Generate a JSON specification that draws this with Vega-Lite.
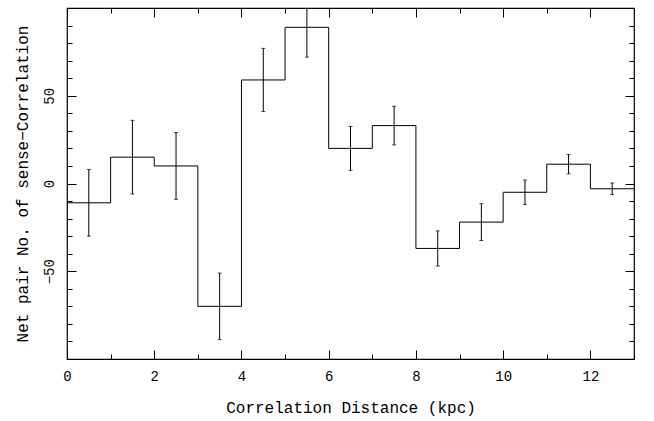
{
  "$schema": "https://vega.github.io/schema/vega-lite/v6.json",
  "width": 567,
  "height": 351,
  "autosize": {"type": "none"},
  "padding": {"left": 67, "top": 8, "right": 20, "bottom": 62},
  "background": "white",
  "config": {
    "view": {"stroke": "black", "strokeWidth": 1.2},
    "font": "Liberation Mono",
    "axis": {"labelFont": "Liberation Mono", "titleFont": "Liberation Mono", "labelColor": "black", "titleColor": "black", "titleFontWeight": "normal", "grid": false, "domain": false, "tickColor": "black"}
  },
  "datasets": {
    "bins": [
      {"xc": 0.5, "y": -11, "err": 19},
      {"xc": 1.5, "y": 15, "err": 21},
      {"xc": 2.5, "y": 10, "err": 19},
      {"xc": 3.5, "y": -70, "err": 19},
      {"xc": 4.5, "y": 59, "err": 18},
      {"xc": 5.5, "y": 89, "err": 17},
      {"xc": 6.5, "y": 20, "err": 12.5},
      {"xc": 7.5, "y": 33, "err": 11},
      {"xc": 8.5, "y": -37, "err": 10},
      {"xc": 9.5, "y": -22, "err": 10.5},
      {"xc": 10.5, "y": -5, "err": 7},
      {"xc": 11.5, "y": 11, "err": 5.5},
      {"xc": 12.5, "y": -3, "err": 3.3}
    ],
    "steps": [
      {"x": 0, "y": -11}, {"x": 1, "y": 15}, {"x": 2, "y": 10}, {"x": 3, "y": -70},
      {"x": 4, "y": 59}, {"x": 5, "y": 89}, {"x": 6, "y": 20}, {"x": 7, "y": 33},
      {"x": 8, "y": -37}, {"x": 9, "y": -22}, {"x": 10, "y": -5}, {"x": 11, "y": 11},
      {"x": 12, "y": -3}, {"x": 13, "y": -3}
    ]
  },
  "resolve": {"axis": {"x": "independent", "y": "independent"}},
  "layer": [
    {
      "data": {"name": "steps"},
      "mark": {"type": "line", "interpolate": "step-after", "color": "black", "strokeWidth": 1, "clip": true},
      "encoding": {
        "x": {"field": "x", "type": "quantitative", "scale": {"domain": [0, 13], "nice": false, "zero": false},
          "axis": {"orient": "bottom", "values": [0, 2, 4, 6, 8, 10, 12], "ticks": false, "labelPadding": 10, "labelFontSize": 14, "title": "Correlation Distance (kpc)", "titleFontSize": 16, "titlePadding": 16, "labelFlush": false}},
        "y": {"field": "y", "type": "quantitative", "scale": {"domain": [-100, 100], "nice": false, "zero": false},
          "axis": {"orient": "left", "values": [-50, 0, 50], "ticks": false, "labelPadding": 11, "labelFontSize": 14, "labelAngle": -90, "labelAlign": "center", "labelBaseline": "bottom", "title": "Net pair No. of sense−Correlation", "titleFontSize": 16, "titlePadding": 12}}
      }
    },
    {
      "data": {"name": "bins"},
      "mark": {"type": "rule", "color": "black", "strokeWidth": 1, "clip": true},
      "encoding": {
        "x": {"field": "xc", "type": "quantitative",
          "axis": {"orient": "bottom", "values": [0,1,2,3,4,5,6,7,8,9,10,11,12,13], "labels": false, "title": null,
            "tickSize": {"condition": {"test": "datum.value % 2 === 0", "value": -9}, "value": -5}}},
        "y": {"field": "lo", "type": "quantitative",
          "axis": {"orient": "left", "values": [-90,-80,-70,-60,-50,-40,-30,-20,-10,0,10,20,30,40,50,60,70,80,90], "labels": false, "title": null,
            "tickSize": {"condition": {"test": "datum.value % 50 === 0", "value": -9}, "value": -5}}},
        "y2": {"field": "hi"}
      },
      "transform": [{"calculate": "datum.y - datum.err", "as": "lo"}, {"calculate": "datum.y + datum.err", "as": "hi"}]
    },
    {
      "data": {"name": "bins"},
      "transform": [{"calculate": "datum.y - datum.err", "as": "lo"}],
      "mark": {"type": "tick", "orient": "horizontal", "color": "black", "size": 4, "thickness": 1, "clip": true},
      "encoding": {
        "x": {"field": "xc", "type": "quantitative",
          "axis": {"orient": "top", "values": [0,1,2,3,4,5,6,7,8,9,10,11,12,13], "labels": false, "title": null,
            "tickSize": {"condition": {"test": "datum.value % 2 === 0", "value": -9}, "value": -5}}},
        "y": {"field": "lo", "type": "quantitative",
          "axis": {"orient": "right", "values": [-90,-80,-70,-60,-50,-40,-30,-20,-10,0,10,20,30,40,50,60,70,80,90], "labels": false, "title": null,
            "tickSize": {"condition": {"test": "datum.value % 50 === 0", "value": -9}, "value": -5}}}
      }
    },
    {
      "data": {"name": "bins"},
      "transform": [{"calculate": "datum.y + datum.err", "as": "hi"}],
      "mark": {"type": "tick", "orient": "horizontal", "color": "black", "size": 4, "thickness": 1, "clip": true},
      "encoding": {
        "x": {"field": "xc", "type": "quantitative", "axis": null},
        "y": {"field": "hi", "type": "quantitative", "axis": null}
      }
    },
    {
      "mark": {"type": "rule", "color": "black", "strokeWidth": 1},
      "encoding": {"y": {"datum": 0, "type": "quantitative", "axis": null}}
    }
  ]
}
